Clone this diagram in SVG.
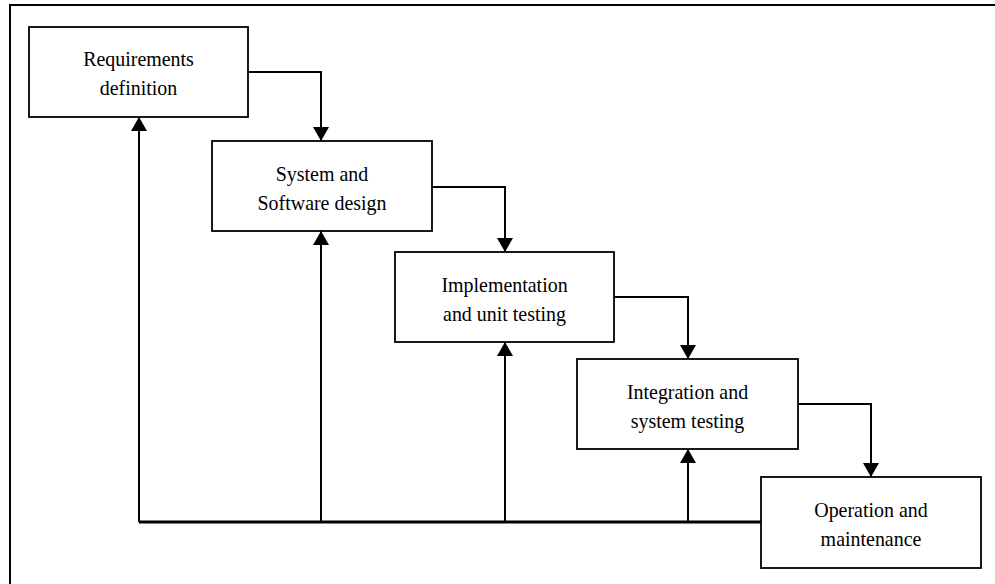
<svg xmlns="http://www.w3.org/2000/svg" width="995" height="584" viewBox="0 0 995 584">
<defs>
<style>
.box{fill:#fff;stroke:#000;stroke-width:1.8}
.lbl{font-family:"Liberation Serif","Times New Roman",serif;font-size:21px;fill:#000;text-anchor:middle}
.con{fill:none;stroke:#000;stroke-width:2}
.base{fill:none;stroke:#000;stroke-width:2.8}
.frame{fill:none;stroke:#000;stroke-width:2}
</style>
<marker id="ah" viewBox="0 0 14 16" refX="14" refY="8" markerWidth="14" markerHeight="16" markerUnits="userSpaceOnUse" orient="auto">
<path d="M0,0 L14,8 L0,16 Z" fill="#000"/>
</marker>
</defs>
<rect width="995" height="584" fill="#fff"/>
<path class="frame" d="M10,584 V5 H995"/>
<g id="connectors">
<path class="con" d="M248,72 H321 V141" marker-end="url(#ah)"/>
<path class="con" d="M432,187 H505 V252" marker-end="url(#ah)"/>
<path class="con" d="M614,297 H688 V359" marker-end="url(#ah)"/>
<path class="con" d="M798,404 H871 V477" marker-end="url(#ah)"/>
<path class="base" d="M761,522 H139"/>
<path class="con" d="M139,522 V117" marker-end="url(#ah)"/>
<path class="con" d="M321,522 V231" marker-end="url(#ah)"/>
<path class="con" d="M505,522 V342" marker-end="url(#ah)"/>
<path class="con" d="M688,522 V449" marker-end="url(#ah)"/>
</g>
<g id="requirements">
<rect class="box" x="29" y="27" width="219" height="90"/>
<g transform="translate(138.5,0) scale(0.95,1)">
<text class="lbl" x="0" y="66">Requirements</text>
<text class="lbl" x="0" y="95">definition</text>
</g>
</g>
<g id="design">
<rect class="box" x="212" y="141" width="220" height="90"/>
<g transform="translate(322,0) scale(0.95,1)">
<text class="lbl" x="0" y="181">System and</text>
<text class="lbl" x="0" y="210">Software design</text>
</g>
</g>
<g id="implementation">
<rect class="box" x="395" y="252" width="219" height="90"/>
<g transform="translate(504.5,0) scale(0.95,1)">
<text class="lbl" x="0" y="292">Implementation</text>
<text class="lbl" x="0" y="321">and unit testing</text>
</g>
</g>
<g id="integration">
<rect class="box" x="577" y="359" width="221" height="90"/>
<g transform="translate(687.5,0) scale(0.95,1)">
<text class="lbl" x="0" y="399">Integration and</text>
<text class="lbl" x="0" y="428">system testing</text>
</g>
</g>
<g id="operation">
<rect class="box" x="761" y="477" width="220" height="91"/>
<g transform="translate(871,0) scale(0.95,1)">
<text class="lbl" x="0" y="517">Operation and</text>
<text class="lbl" x="0" y="546">maintenance</text>
</g>
</g>
</svg>
